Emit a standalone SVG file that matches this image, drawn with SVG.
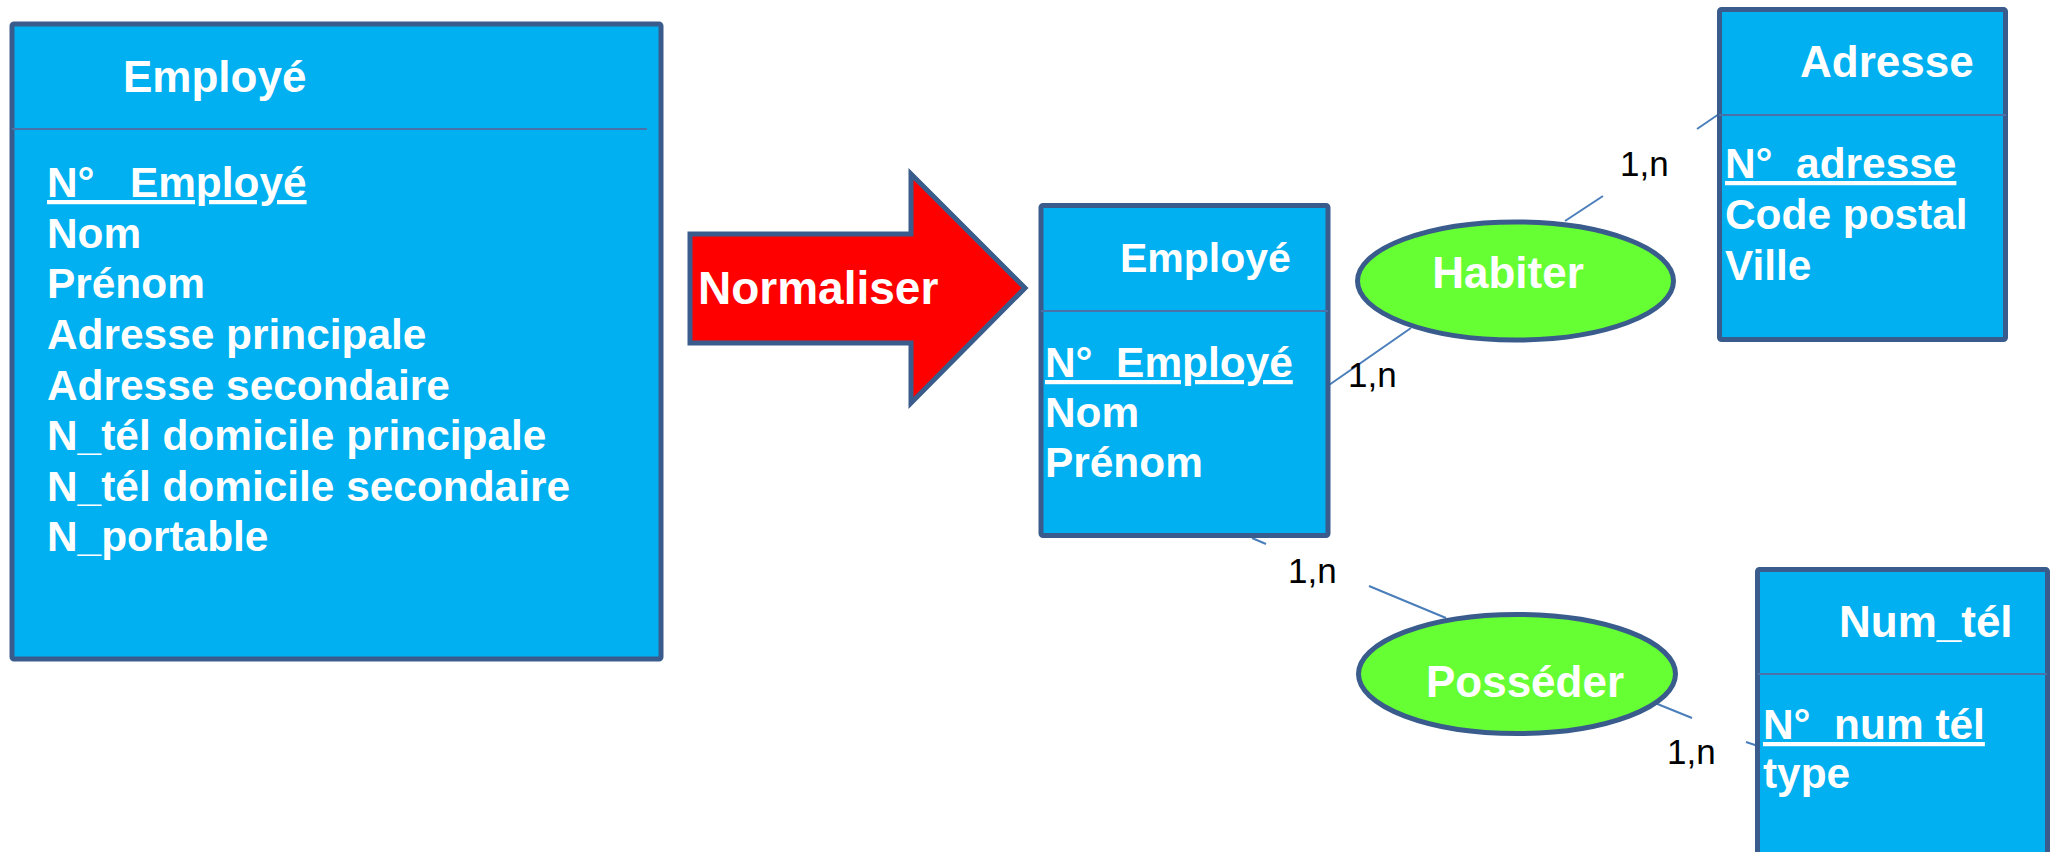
<svg xmlns="http://www.w3.org/2000/svg" width="2051" height="852" viewBox="0 0 2051 852">
  <style>
    .entity { fill: #00B0F0; stroke: #3A5C8C; stroke-width: 5; }
    .sep { stroke: #4A72A8; stroke-width: 2; }
    .assoc { fill: #66FF33; stroke: #3A5C8C; stroke-width: 5; }
    .link { stroke: #4A7EBB; stroke-width: 2; fill: none; }
    .title { font-family: "Liberation Sans", Arial, sans-serif; font-weight: bold; fill: #FFFFFF; font-size: 44px; }
    .title.small { font-size: 41px; }
    .attr { font-family: "Liberation Sans", Arial, sans-serif; font-weight: bold; fill: #FFFFFF; font-size: 42.4px; white-space: pre; }
    .key { text-decoration: underline; }
    .card { font-family: "Liberation Sans", Arial, sans-serif; fill: #000000; font-size: 35px; }
  </style>
  <rect width="2051" height="852" fill="#FFFFFF"/>

  <!-- Source entity (not normalised) -->
  <g id="employe-source">
    <rect class="entity" x="12" y="24" width="649" height="635" rx="2"/>
    <line class="sep" x1="12" y1="129" x2="647" y2="129"/>
    <text class="title" x="123" y="92">Employé</text>
    <text class="attr key" x="47" y="197">N°   Employé</text>
    <text class="attr" x="47" y="247.6">Nom</text>
    <text class="attr" x="47" y="298">Prénom</text>
    <text class="attr" x="47" y="349">Adresse principale</text>
    <text class="attr" x="47" y="399.5">Adresse secondaire</text>
    <text class="attr" x="47" y="450">N_tél domicile principale</text>
    <text class="attr" x="47" y="500.6">N_tél domicile secondaire</text>
    <text class="attr" x="47" y="551">N_portable</text>
  </g>

  <!-- Transformation arrow -->
  <g id="normaliser">
    <polygon points="690,234 911,234 911,174 1025,288 911,403 911,343 690,343" fill="#FF0000" stroke="#3A5C8C" stroke-width="5" stroke-linejoin="miter"/>
    <text x="698" y="304" font-family="Liberation Sans, Arial, sans-serif" font-weight="bold" font-size="46" fill="#FFFFFF">Normaliser</text>
  </g>

  <!-- Connectors and cardinalities -->
  <g id="connectors">
    <line class="link" x1="1329" y1="385" x2="1411" y2="328"/>
    <line class="link" x1="1565" y1="221" x2="1603" y2="196"/>
    <line class="link" x1="1697" y1="129" x2="1719" y2="114"/>
    <line class="link" x1="1252" y1="538" x2="1266" y2="544"/>
    <line class="link" x1="1369" y1="586" x2="1446" y2="618"/>
    <line class="link" x1="1655" y1="703" x2="1692" y2="718"/>
    <line class="link" x1="1746" y1="742" x2="1758" y2="746"/>
    <text class="card" x="1620" y="176">1,n</text>
    <text class="card" x="1348" y="387">1,n</text>
    <text class="card" x="1288" y="583">1,n</text>
    <text class="card" x="1667" y="764">1,n</text>
  </g>

  <!-- Normalised entities -->
  <g id="employe">
    <rect class="entity" x="1041" y="205.5" width="287" height="330" rx="2"/>
    <line class="sep" x1="1041" y1="311" x2="1328" y2="311"/>
    <text class="title small" x="1120" y="272">Employé</text>
    <text class="attr key" x="1045" y="377">N°  Employé</text>
    <text class="attr" x="1045" y="427">Nom</text>
    <text class="attr" x="1045" y="477">Prénom</text>
  </g>

  <g id="adresse">
    <rect class="entity" x="1719.5" y="9.5" width="286" height="330" rx="2"/>
    <line class="sep" x1="1719" y1="115" x2="2006" y2="115"/>
    <text class="title" x="1800" y="77">Adresse</text>
    <text class="attr key" x="1725" y="178">N°  adresse</text>
    <text class="attr" x="1725" y="229">Code postal</text>
    <text class="attr" x="1725" y="280">Ville</text>
  </g>

  <g id="num-tel">
    <rect class="entity" x="1757.5" y="569.5" width="290" height="320" rx="2"/>
    <line class="sep" x1="1758" y1="674" x2="2047" y2="674"/>
    <text class="title" x="1839" y="637">Num_tél</text>
    <text class="attr key" x="1763" y="739">N°  num tél</text>
    <text class="attr" x="1763" y="788">type</text>
  </g>

  <!-- Associations -->
  <g id="habiter">
    <ellipse class="assoc" cx="1515.5" cy="281" rx="158" ry="59"/>
    <text class="title" x="1508" y="288" text-anchor="middle">Habiter</text>
  </g>

  <g id="posseder">
    <ellipse class="assoc" cx="1517" cy="674" rx="158.5" ry="59.5"/>
    <text class="title" x="1525" y="697" text-anchor="middle">Posséder</text>
  </g>
</svg>
